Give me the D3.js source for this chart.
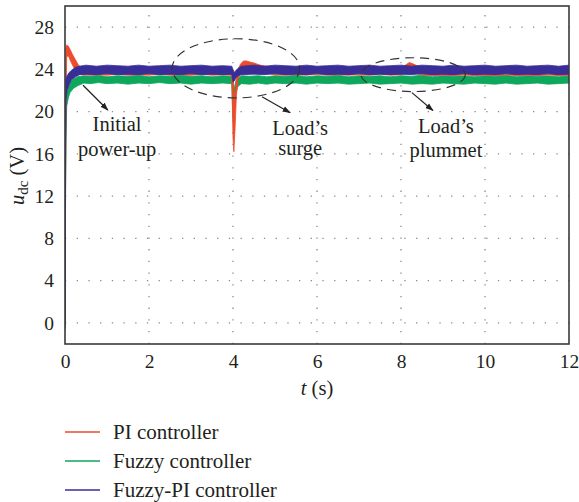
<!DOCTYPE html>
<html>
<head>
<meta charset="utf-8">
<script src="https://cdn.jsdelivr.net/npm/d3@7"></script>
<style>
  body { margin: 0; background: #fff; }
  svg text { font-family: "Liberation Serif", "DejaVu Serif", serif; fill: #231f20; }
</style>
</head>
<body>
<div id="chart"></div>
<script>
// series: [t (s), lower edge (V), upper edge (V)] of the noisy trace
const piData = [
  [0, -0.7, 0.0], [0.02, 20.0, 26.0], [0.04, 25.2, 26.3], [0.08, 25.3, 26.2],
  [0.12, 24.9, 25.9], [0.18, 24.4, 25.4], [0.25, 23.9, 24.9], [0.32, 23.6, 24.4],
  [0.4, 23.5, 24.2], [0.6, 23.45, 24.1], [0.8, 23.5, 24.25], [1.0, 23.45, 24.1],
  [1.25, 23.55, 24.2], [1.5, 23.45, 24.05], [1.75, 23.5, 24.2], [2.0, 23.45, 24.15],
  [2.25, 23.55, 24.25], [2.5, 23.45, 24.05], [2.75, 23.5, 24.15], [3.0, 23.45, 24.2],
  [3.25, 23.55, 24.1], [3.5, 23.45, 24.05], [3.75, 23.5, 24.2], [3.97, 23.45, 24.05],
  [4.0, 17.5, 23.6], [4.02, 16.2, 21.0], [4.05, 18.5, 22.0], [4.08, 21.5, 23.2],
  [4.12, 23.0, 24.0], [4.18, 23.8, 24.5], [4.25, 24.1, 24.8], [4.32, 24.1, 24.8],
  [4.4, 24.0, 24.7], [4.5, 23.9, 24.6], [4.65, 23.7, 24.4], [4.8, 23.6, 24.3],
  [5.0, 23.5, 24.2], [5.25, 23.45, 24.1], [5.5, 23.5, 24.2], [5.75, 23.45, 24.05],
  [6.0, 23.55, 24.2], [6.25, 23.45, 24.1], [6.5, 23.5, 24.25], [6.75, 23.45, 24.05],
  [7.0, 23.5, 24.15], [7.25, 23.45, 24.2], [7.5, 23.55, 24.1], [7.75, 23.45, 24.05],
  [8.0, 23.5, 24.15], [8.1, 23.6, 24.4], [8.2, 23.8, 24.65], [8.3, 23.7, 24.5],
  [8.4, 23.55, 24.3], [8.6, 23.45, 24.1], [8.8, 23.4, 24.05], [9.0, 23.45, 24.15],
  [9.25, 23.4, 24.05], [9.5, 23.5, 24.2], [9.75, 23.4, 24.05], [10.0, 23.45, 24.15],
  [10.25, 23.4, 24.1], [10.5, 23.5, 24.2], [10.75, 23.4, 24.05], [11.0, 23.45, 24.15],
  [11.25, 23.4, 24.1], [11.5, 23.5, 24.2], [11.75, 23.4, 24.05], [12.0, 23.45, 24.15]
];
const fuzzyData = [
  [0, -0.5, 0.3], [0.02, 17.0, 21.0], [0.04, 20.5, 21.8], [0.08, 21.3, 22.4],
  [0.12, 21.8, 22.8], [0.2, 22.2, 23.1], [0.3, 22.45, 23.3], [0.45, 22.7, 23.4],
  [0.6, 22.65, 23.35], [0.8, 22.75, 23.45], [1.0, 22.65, 23.3], [1.25, 22.7, 23.4],
  [1.5, 22.6, 23.35], [1.75, 22.7, 23.45], [2.0, 22.65, 23.3], [2.25, 22.75, 23.4],
  [2.5, 22.65, 23.35], [2.75, 22.7, 23.45], [3.0, 22.6, 23.35], [3.25, 22.7, 23.4],
  [3.5, 22.65, 23.3], [3.75, 22.7, 23.4], [3.97, 22.65, 23.35], [4.0, 19.3, 23.0],
  [4.03, 19.6, 22.2], [4.07, 21.8, 22.9], [4.12, 22.4, 23.2], [4.2, 22.65, 23.4],
  [4.4, 22.6, 23.35], [4.6, 22.7, 23.4], [4.8, 22.6, 23.3], [5.0, 22.7, 23.4],
  [5.25, 22.65, 23.35], [5.5, 22.7, 23.45], [5.75, 22.6, 23.3], [6.0, 22.7, 23.4],
  [6.25, 22.65, 23.35], [6.5, 22.7, 23.45], [6.75, 22.6, 23.3], [7.0, 22.65, 23.4],
  [7.25, 22.7, 23.35], [7.5, 22.6, 23.4], [7.75, 22.65, 23.3], [8.0, 22.7, 23.4],
  [8.25, 22.6, 23.35], [8.5, 22.65, 23.45], [8.75, 22.6, 23.3], [9.0, 22.7, 23.4],
  [9.25, 22.65, 23.35], [9.5, 22.6, 23.4], [9.75, 22.7, 23.3], [10.0, 22.65, 23.4],
  [10.25, 22.6, 23.35], [10.5, 22.7, 23.45], [10.75, 22.6, 23.3], [11.0, 22.65, 23.4],
  [11.25, 22.7, 23.35], [11.5, 22.6, 23.4], [11.75, 22.65, 23.3], [12.0, 22.7, 23.4]
];
const fuzzyPiData = [
  [0, -0.3, 0.2], [0.02, 21.0, 23.0], [0.05, 22.0, 23.4], [0.1, 22.6, 23.7],
  [0.15, 23.0, 23.9], [0.25, 23.3, 24.2], [0.35, 23.5, 24.3], [0.5, 23.55, 24.4],
  [0.75, 23.5, 24.3], [1.0, 23.6, 24.4], [1.25, 23.5, 24.35], [1.5, 23.55, 24.3],
  [1.75, 23.5, 24.4], [2.0, 23.6, 24.3], [2.25, 23.5, 24.35], [2.5, 23.55, 24.4],
  [2.75, 23.5, 24.3], [3.0, 23.6, 24.35], [3.25, 23.5, 24.4], [3.5, 23.55, 24.3],
  [3.75, 23.5, 24.35], [3.97, 23.55, 24.3], [4.0, 22.8, 24.0], [4.03, 22.9, 23.7],
  [4.07, 23.2, 23.9], [4.12, 23.4, 24.1], [4.2, 23.5, 24.3], [4.5, 23.55, 24.4],
  [4.75, 23.5, 24.3], [5.0, 23.6, 24.4], [5.25, 23.5, 24.35], [5.5, 23.55, 24.3],
  [5.75, 23.5, 24.4], [6.0, 23.6, 24.3], [6.25, 23.5, 24.35], [6.5, 23.55, 24.4],
  [6.75, 23.5, 24.3], [7.0, 23.6, 24.35], [7.25, 23.5, 24.4], [7.5, 23.55, 24.3],
  [7.75, 23.5, 24.35], [8.0, 23.55, 24.4], [8.25, 23.5, 24.3], [8.5, 23.6, 24.4],
  [8.75, 23.5, 24.35], [9.0, 23.55, 24.3], [9.25, 23.5, 24.4], [9.5, 23.6, 24.3],
  [9.75, 23.5, 24.35], [10.0, 23.55, 24.4], [10.25, 23.5, 24.3], [10.5, 23.6, 24.35],
  [10.75, 23.5, 24.4], [11.0, 23.55, 24.3], [11.25, 23.5, 24.35], [11.5, 23.6, 24.4],
  [11.75, 23.5, 24.3], [12.0, 23.55, 24.4]
];

const seriesNames = ["PI controller", "Fuzzy controller", "Fuzzy-PI controller"];
const seriesColors = ["#ee4a2c", "#0fa75b", "#392d98"];
const xTicks = [0, 2, 4, 6, 8, 10, 12];
const yTicks = [0, 4, 8, 12, 16, 20, 24, 28];

// annotations in data units: ellipses [t, u, rt, ru], arrows [t0, u0, t1, u1]
const ellipses = [[4.07, 24.1, 1.52, 2.8], [8.29, 23.5, 1.24, 1.6]];
const arrows = [[0.43, 22.5, 1.02, 20.15], [4.69, 21.4, 5.36, 19.9], [8.26, 21.8, 8.76, 20.1]];
const notes = [
  [1.24, 18.2, "Initial"], [1.24, 15.8, "power-up"],
  [5.6, 17.8, "Load\u2019s"], [5.6, 15.9, "surge"],
  [9.07, 18.0, "Load\u2019s"], [9.07, 15.7, "plummet"]
];

const W = 579, H = 502;
const x = d3.scaleLinear().domain([0, 12]).range([65, 569]);
const y = d3.scaleLinear().domain([-2, 30]).range([344, 6]);

const svg = d3.select("#chart").append("svg")
  .attr("width", W).attr("height", H);

svg.append("defs").append("clipPath").attr("id", "plotclip")
  .append("rect")
  .attr("x", x(0)).attr("y", y(30))
  .attr("width", x(12) - x(0)).attr("height", y(-2) - y(30));

svg.select("defs").append("marker")
  .attr("id", "head").attr("viewBox", "0 0 10 10")
  .attr("refX", 9).attr("refY", 5)
  .attr("markerWidth", 7).attr("markerHeight", 7)
  .attr("orient", "auto")
  .append("path").attr("d", "M0,1.5L10,5L0,8.5Z").attr("fill", "#222");

// grid
const grid = svg.append("g").attr("stroke", "#8a8a8a").attr("stroke-width", 1.3)
  .attr("stroke-dasharray", "1.3,10.4");
grid.selectAll(".gx").data(xTicks.filter(d => d > 0 && d < 12)).join("line")
  .attr("x1", d => x(d)).attr("x2", d => x(d))
  .attr("y1", y(-2)).attr("y2", y(30));
grid.selectAll(".gy").data(yTicks).join("line")
  .attr("y1", d => y(d)).attr("y2", d => y(d))
  .attr("x1", x(0)).attr("x2", x(12));

// traces
const area = d3.area()
  .x(d => x(d[0]))
  .y0(d => y(d[1]))
  .y1(d => y(d[2]));

const traces = [
  {data: fuzzyData, color: seriesColors[1]},
  {data: piData, color: seriesColors[0]},
  {data: fuzzyPiData, color: seriesColors[2]}
];
svg.append("g").attr("clip-path", "url(#plotclip)")
  .selectAll("path").data(traces).join("path")
  .attr("d", d => area(d.data))
  .attr("fill", d => d.color)
  .attr("stroke", d => d.color)
  .attr("stroke-width", 0.8)
  .attr("stroke-linejoin", "round");

// annotations
svg.append("g").selectAll("ellipse").data(ellipses).join("ellipse")
  .attr("cx", d => x(d[0])).attr("cy", d => y(d[1]))
  .attr("rx", d => x(d[2]) - x(0)).attr("ry", d => y(0) - y(d[3]))
  .attr("fill", "none").attr("stroke", "#333").attr("stroke-width", 1.2)
  .attr("stroke-dasharray", "9,6");

svg.append("g").selectAll("line").data(arrows).join("line")
  .attr("x1", d => x(d[0])).attr("y1", d => y(d[1]))
  .attr("x2", d => x(d[2])).attr("y2", d => y(d[3]))
  .attr("stroke", "#222").attr("stroke-width", 1.2)
  .attr("marker-end", "url(#head)");

svg.append("g").selectAll("text").data(notes).join("text")
  .attr("x", d => x(d[0])).attr("y", d => y(d[1]))
  .attr("text-anchor", "middle").attr("font-size", 20.5)
  .text(d => d[2]);

// frame
svg.append("rect")
  .attr("x", x(0)).attr("y", y(30))
  .attr("width", x(12) - x(0)).attr("height", y(-2) - y(30))
  .attr("fill", "none").attr("stroke", "#3a3a3a").attr("stroke-width", 1.6);

// axes
const yAxis = svg.append("g").attr("transform", `translate(${x(0)},0)`)
  .call(d3.axisLeft(y).tickValues(yTicks).tickSize(0).tickPadding(11));
const xAxis = svg.append("g").attr("transform", `translate(0,${y(-2)})`)
  .call(d3.axisBottom(x).tickValues(xTicks).tickSize(0).tickPadding(10));
[xAxis, yAxis].forEach(g => {
  g.select(".domain").remove();
  g.attr("font-family", null).attr("font-size", null);
  g.selectAll("text").attr("font-size", 19.5).attr("fill", "#231f20");
});

// axis titles
const yt = svg.append("text")
  .attr("transform", "translate(24,176) rotate(-90)")
  .attr("text-anchor", "middle").attr("font-size", 20.5);
yt.append("tspan").attr("font-style", "italic").text("u");
yt.append("tspan").attr("font-size", 15).attr("dy", 4).text("dc");
yt.append("tspan").attr("dy", -4).text(" (V)");

const xt = svg.append("text")
  .attr("x", (x(0) + x(12)) / 2).attr("y", 395)
  .attr("text-anchor", "middle").attr("font-size", 20.5);
xt.append("tspan").attr("font-style", "italic").text("t");
xt.append("tspan").text(" (s)");

// legend
const legend = svg.append("g").selectAll("g").data(seriesNames).join("g")
  .attr("transform", (d, i) => `translate(65,${432 + i * 29})`);
legend.append("line")
  .attr("x1", 0).attr("x2", 35)
  .attr("stroke", (d, i) => seriesColors[i]).attr("stroke-width", 1.6);
legend.append("text")
  .attr("x", 48).attr("y", 6.5).attr("font-size", 21)
  .text(d => d);
</script>
</body>
</html>
